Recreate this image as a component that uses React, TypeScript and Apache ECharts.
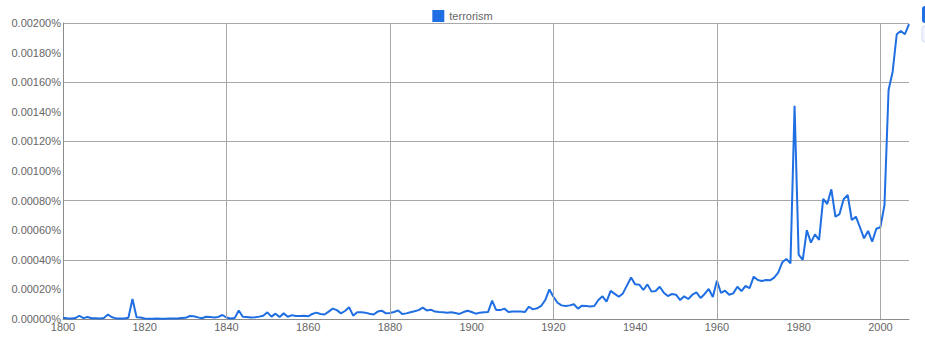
import React, { useEffect, useRef } from "react";
import * as echarts from "echarts";

const SERIES_NAME = "terrorism";
const START_YEAR = 1800;
const END_YEAR = 2007;
const X_LABEL_STEP = 20;
const Y_LABEL_STEP = 0.0002;
const Y_GRID_STEP = 0.0004;
const Y_MAX = 0.002;
const X_GRID_YEARS = [1840, 1880, 1920, 1960, 2000];

// frequency in percent, one value per year from 1800 to 2007
const VALUES = [
  0.000008, 0.000005, 0.000003, 0.000006, 0.000022, 0.000006, 0.000014, 0.000005, 0.000005, 0.000004,
  0.000006, 0.00003, 0.000012, 0.000004, 0.000003, 0.000004, 0.000008, 0.000135, 0.000012, 0.00001,
  0.000004, 0.000002, 0.000002, 0.000003, 0.000002, 0.000002, 0.000003, 0.000004, 0.000004, 0.000006,
  0.000008, 0.00002, 0.000019, 0.000011, 0.000005, 0.000015, 0.000013, 0.00001, 0.000014, 0.000027,
  0.00001, 0.000004, 0.000006, 0.000058, 0.000015, 0.000014, 0.00001, 0.000012, 0.000016, 0.000022,
  0.000045, 0.000016, 0.000036, 0.000014, 0.000038, 0.000015, 0.000026, 0.00002, 0.00002, 0.000022,
  0.000018, 0.000034, 0.000043, 0.000034, 0.00003, 0.00005, 0.00007, 0.00006, 0.000038, 0.000054,
  0.000079, 0.000023, 0.000045, 0.000045, 0.000043, 0.000036, 0.00003, 0.00005, 0.000056, 0.000038,
  0.00004, 0.000047, 0.000058, 0.000034, 0.000038, 0.000045, 0.000052, 0.00006, 0.000077, 0.000058,
  0.000063, 0.00005, 0.000047, 0.000045, 0.000043, 0.000045, 0.00004, 0.000034, 0.000047, 0.000056,
  0.000047, 0.000036, 0.000043, 0.000045, 0.000047, 0.000124, 0.00006, 0.00006, 0.00007, 0.000047,
  0.00005, 0.00005, 0.00005, 0.000047, 0.000083, 0.000065, 0.000072, 0.000088, 0.000128, 0.0002,
  0.00015, 0.00011, 0.000092, 0.000088, 0.000092, 0.0001, 0.00007, 0.00009, 0.000088, 0.000085,
  0.000088, 0.000128, 0.000153, 0.000117, 0.00019, 0.00017, 0.00015, 0.000173, 0.000227, 0.00028,
  0.000234, 0.000232, 0.000196, 0.000234, 0.000185, 0.000189, 0.000218, 0.000178, 0.000155, 0.000169,
  0.000164, 0.000128, 0.000153, 0.000135, 0.000164, 0.00018, 0.000142, 0.000169, 0.000203, 0.000149,
  0.000259, 0.000176, 0.000191, 0.000164, 0.000173, 0.000218, 0.000189, 0.000223, 0.000209, 0.000286,
  0.000263, 0.000257, 0.000263, 0.000261, 0.00028, 0.000313, 0.000383, 0.000405, 0.000376, 0.00144,
  0.000435, 0.0004, 0.0006, 0.000516, 0.000572, 0.000534, 0.000811, 0.000777, 0.000876, 0.000691,
  0.000709, 0.000809, 0.000838, 0.000669, 0.000691, 0.00062, 0.000545, 0.000595, 0.000522, 0.00061,
  0.00062, 0.00077, 0.001547, 0.001671, 0.001924, 0.001946, 0.001924, 0.001993,
];

const FONT = "'Liberation Sans', Arial, sans-serif";
const LINE_COLOR = "#1f6fe3";
const GRID_COLOR = "#a8a8a8";
const AXIS_COLOR = "#8c8c8c";
const TEXT_COLOR = "#666666";

export default function App() {
  const ref = useRef<HTMLDivElement>(null);

  useEffect(() => {
    if (!ref.current) return;
    const chart = echarts.init(ref.current, undefined, { renderer: "svg" });
    const data = VALUES.map((v, i) => [START_YEAR + i, v]);

    chart.setOption({
      animation: false,
      textStyle: { fontFamily: FONT },
      legend: {
        data: [{ name: SERIES_NAME, icon: "rect" }],
        top: 5,
        left: "center",
        itemWidth: 12,
        itemHeight: 12,
        itemGap: 6,
        textStyle: { color: TEXT_COLOR, fontSize: 11, fontFamily: FONT },
        selectedMode: false,
      },
      grid: { left: 63, right: 16, top: 23, bottom: 19, containLabel: false },
      xAxis: {
        type: "value",
        min: START_YEAR,
        max: END_YEAR,
        interval: X_LABEL_STEP,
        axisLine: { show: true, lineStyle: { color: AXIS_COLOR, width: 1 } },
        axisTick: { show: false },
        splitLine: { show: false },
        axisLabel: {
          color: TEXT_COLOR,
          fontSize: 11,
          fontFamily: FONT,
          margin: 2,
          showMaxLabel: false,
          formatter: (v: number) => (v % X_LABEL_STEP === 0 ? String(v) : ""),
        },
      },
      yAxis: [
        {
          type: "value",
          min: 0,
          max: Y_MAX,
          interval: Y_LABEL_STEP,
          z: 3,
          axisLine: { show: true, lineStyle: { color: AXIS_COLOR, width: 1 } },
          axisTick: { show: false },
          splitLine: { show: false },
          axisLabel: {
            color: TEXT_COLOR,
            fontSize: 11,
            fontFamily: FONT,
            margin: 2,
            formatter: (v: number) => v.toFixed(5) + "%",
          },
        },
        {
          type: "value",
          position: "left",
          min: 0,
          max: Y_MAX,
          interval: Y_GRID_STEP,
          axisLine: { show: false },
          axisTick: { show: false },
          axisLabel: { show: false },
          splitLine: { show: true, lineStyle: { color: GRID_COLOR, width: 1 } },
        },
      ],
      series: [
        {
          type: "line",
          name: "grid",
          data: [],
          z: 1,
          silent: true,
          markLine: {
            silent: true,
            symbol: "none",
            label: { show: false },
            lineStyle: { color: GRID_COLOR, width: 1, type: "solid" },
            data: X_GRID_YEARS.map((x) => ({ xAxis: x })),
          },
        },
        {
          type: "line",
          name: SERIES_NAME,
          data,
          z: 3,
          showSymbol: false,
          symbol: "none",
          lineStyle: { color: LINE_COLOR, width: 2 },
          itemStyle: { color: LINE_COLOR },
        },
      ],
      graphic: [
        {
          type: "rect",
          shape: { x: 922, y: 6, width: 12, height: 17, r: 3 },
          style: { fill: LINE_COLOR },
        },
        {
          type: "rect",
          shape: { x: 922, y: 26, width: 12, height: 16, r: 3 },
          style: { fill: "#f3f7fd", stroke: "#cddcf2", lineWidth: 1 },
        },
      ],
    });

    return () => chart.dispose();
  }, []);

  return (
    <div
      ref={ref}
      style={{ position: "fixed", left: 0, top: 0, width: 925, height: 338, background: "#fff" }}
    />
  );
}
